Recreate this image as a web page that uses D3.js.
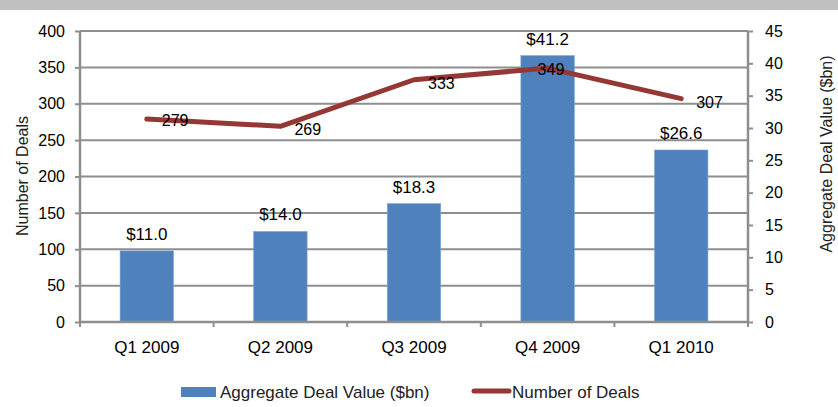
<!DOCTYPE html>
<html><head><meta charset="utf-8">
<script src="https://cdn.jsdelivr.net/npm/d3@7"></script>
<style>body{margin:0;background:#fff}svg{display:block;font-family:Arial,"Liberation Sans",sans-serif}</style>
</head><body>
<svg id="c" width="838" height="407"></svg>
<script>
const categories = ["Q1 2009","Q2 2009","Q3 2009","Q4 2009","Q1 2010"];
const dealValues = [11.0, 14.0, 18.3, 41.2, 26.6];
const dealCounts = [279, 269, 333, 349, 307];
const leftTicks = [0,50,100,150,200,250,300,350,400];
const rightTicks = [0,5,10,15,20,25,30,35,40,45];
const barLabels = ["$11.0","$14.0","$18.3","$41.2","$26.6"];
const seriesNames = ["Aggregate Deal Value ($bn)","Number of Deals"];

const svg = d3.select("#c");
const L = 80, R = 748, T = 31, B = 322;
const grid = "#8e8e8e", barColor = "#4F81BD", lineColor = "#953735";
const fs = 16, fsL = 17;

svg.append("rect").attr("x",0).attr("y",0).attr("width",838).attr("height",10).attr("fill","#c0c0c0");

const x = d3.scaleBand().domain(categories).range([L,R]).paddingInner(0.6).paddingOuter(0.3);
const xc = d3.scaleBand().domain(categories).range([L,R]);
const yL = d3.scaleLinear().domain([0,400]).range([B,T]);
const yR = d3.scaleLinear().domain([0,45]).range([B,T]);

// gridlines
svg.append("g").selectAll("line").data(leftTicks.slice(1)).join("line")
  .attr("x1",L).attr("x2",R).attr("y1",d=>yL(d)).attr("y2",d=>yL(d))
  .attr("stroke",grid).attr("stroke-width",2);

// bars
svg.append("g").selectAll("rect").data(dealValues).join("rect")
  .attr("x",(d,i)=>x(categories[i])).attr("width",x.bandwidth())
  .attr("y",d=>yR(d)).attr("height",d=>B-yR(d))
  .attr("fill",barColor).attr("stroke","#7fa6d6").attr("stroke-width",0.6);

// axes
const axL = svg.append("g").attr("transform",`translate(${L},0)`)
  .call(d3.axisLeft(yL).tickValues(leftTicks).tickSize(5).tickPadding(10));
const axR = svg.append("g").attr("transform",`translate(${R},0)`)
  .call(d3.axisRight(yR).tickValues(rightTicks).tickSize(5).tickPadding(12));
const axB = svg.append("g").attr("transform",`translate(0,${B})`)
  .call(d3.axisBottom(xc).tickSize(0).tickPadding(19));
// category boundary ticks
svg.append("g").selectAll("line").data(d3.range(categories.length+1)).join("line")
  .attr("x1",i=>L+i*xc.step()).attr("x2",i=>L+i*xc.step()).attr("y1",B).attr("y2",B+5)
  .attr("stroke",grid).attr("stroke-width",2);
[axL,axR,axB].forEach(a=>{
  a.selectAll(".domain").attr("stroke",grid).attr("stroke-width",2.5);
  a.selectAll(".tick line").attr("stroke",grid).attr("stroke-width",2);
  a.selectAll("text").attr("font-size",fs).attr("fill","#000").attr("font-family","Arial,'Liberation Sans',sans-serif");
});
axB.selectAll("text").attr("font-size",fsL);
axL.select(".domain").attr("d",`M0,${B}V${T}`);
axR.select(".domain").attr("d",`M0,${B}V${T}`);
axB.select(".domain").attr("d",`M${L},0H${R}`);

// bar labels
svg.append("g").selectAll("text").data(dealValues).join("text")
  .attr("x",(d,i)=>x(categories[i])+x.bandwidth()/2).attr("y",d=>yR(d)-11)
  .attr("text-anchor","middle").attr("font-size",fsL).text((d,i)=>barLabels[i]);

// line
const pts = dealCounts.map((d,i)=>[xc(categories[i])+xc.bandwidth()/2, yL(d)]);
svg.append("path").attr("d",d3.line()(pts)).attr("fill","none")
  .attr("stroke",lineColor).attr("stroke-width",5).attr("stroke-linecap","round").attr("stroke-linejoin","round");

// line labels
const ldx = [15,14,14,-10,15], ldy = [7,9,9,7,9];
svg.append("g").selectAll("text").data(dealCounts).join("text")
  .attr("x",(d,i)=>pts[i][0]+ldx[i]).attr("y",(d,i)=>pts[i][1]+ldy[i])
  .attr("font-size",fs).text(d=>d);

// axis titles
svg.append("text").attr("transform",`translate(28,176) rotate(-90)`).attr("text-anchor","middle")
  .attr("font-size",fs).attr("fill","#222").text("Number of Deals");
svg.append("text").attr("transform",`translate(832,154) rotate(-90)`).attr("text-anchor","middle")
  .attr("font-size",fs).attr("fill","#222").text(seriesNames[0]);

// legend
svg.append("rect").attr("x",181).attr("y",387).attr("width",35).attr("height",10).attr("fill",barColor);
svg.append("text").attr("x",220).attr("y",398).attr("font-size",fsL).attr("fill","#222").text(seriesNames[0]);
svg.append("line").attr("x1",474).attr("x2",509).attr("y1",391).attr("y2",391)
  .attr("stroke",lineColor).attr("stroke-width",5).attr("stroke-linecap","round");
svg.append("text").attr("x",512).attr("y",398).attr("font-size",fsL).attr("fill","#222").text(seriesNames[1]);
</script>
</body></html>
